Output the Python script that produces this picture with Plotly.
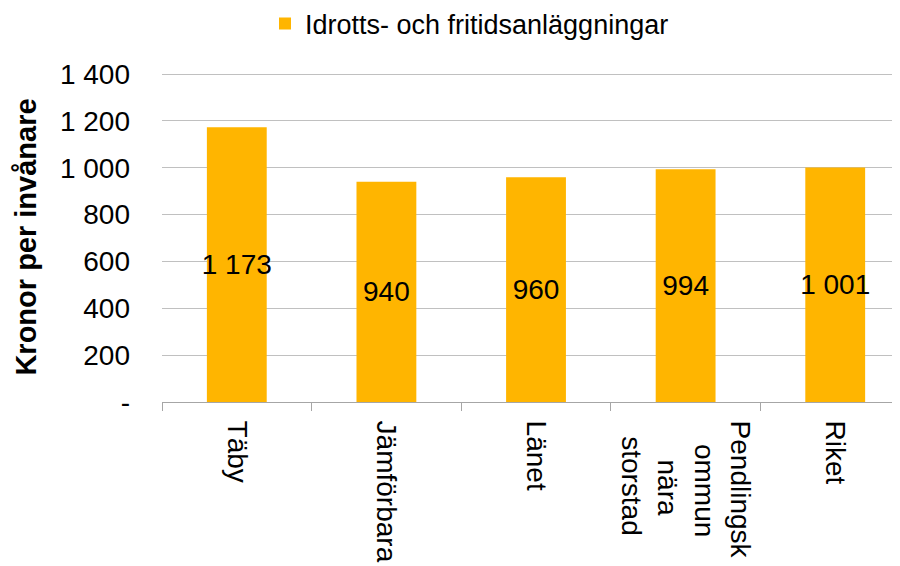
import plotly.graph_objects as go

categories = ["Täby", "Jämförbara", "Länet", "Pendlingskommun nära storstad", "Riket"]
NB = "\u00a0"
tick_labels = ["Täby", "Jämförbara", "Länet",
               "Pendlingsk<br>" + NB * 3 + "ommun<br>" + NB * 5 + "nära<br>" + NB * 2 + "storstad",
               "Riket"]
values = [1173, 940, 960, 994, 1001]
series_name = "Idrotts- och fritidsanläggningar"
y_tickvals = [0, 200, 400, 600, 800, 1000, 1200, 1400]
y_ticktext = ["-", "200", "400", "600", "800", "1 000", "1 200", "1 400"]

value_text = [f"{v:,}".replace(",", " ") for v in values]

FONT = "Liberation Sans, Arial, sans-serif"
BAR = "#FFB500"

fig = go.Figure()
fig.add_trace(go.Bar(
    x=categories, y=values, name=series_name,
    marker=dict(color=BAR, line=dict(width=0)),
    text=value_text, textposition="inside", insidetextanchor="middle",
    textangle=0,
    textfont=dict(family=FONT, size=28, color="black"),
    showlegend=True,
))

fig.update_layout(
    width=892, height=566,
    margin=dict(l=154, r=0, t=64, b=172, autoexpand=False),
    paper_bgcolor="white", plot_bgcolor="white",
    bargap=0.6,
    font=dict(family=FONT, size=28, color="black"),
    uniformtext=dict(minsize=28, mode="show"),
    legend=dict(orientation="h", x=257 / 892, xref="container", xanchor="left",
                y=1 - 16 / 566, yref="container", yanchor="middle",
                font=dict(family=FONT, size=27, color="black"),
                itemwidth=30, bgcolor="rgba(0,0,0,0)"),
    xaxis=dict(
        type="category", range=[-0.5, 4.433],
        tickmode="array", tickvals=categories, ticktext=tick_labels,
        tickangle=90, tickson="boundaries", ticks="outside", ticklen=8,
        tickcolor="#A6A6A6", tickwidth=1,
        showline=True, linecolor="#A6A6A6", linewidth=1,
        showgrid=False, zeroline=False,
        ticklabelstandoff=12,
        tickfont=dict(family=FONT, size=28, color="black"),
    ),
    yaxis=dict(
        range=[0, 1409], tickmode="array", tickvals=y_tickvals, ticktext=y_ticktext,
        showgrid=True, gridcolor="#C0C0C0", gridwidth=1,
        showline=False, zeroline=False, ticks="",
        ticklabelstandoff=31,
        tickfont=dict(family=FONT, size=28, color="black"),
        title=dict(text="<b>Kronor per invånare</b>", standoff=14,
                   font=dict(family=FONT, size=29, color="black")),
    ),
)

fig.write_html("out.html")
